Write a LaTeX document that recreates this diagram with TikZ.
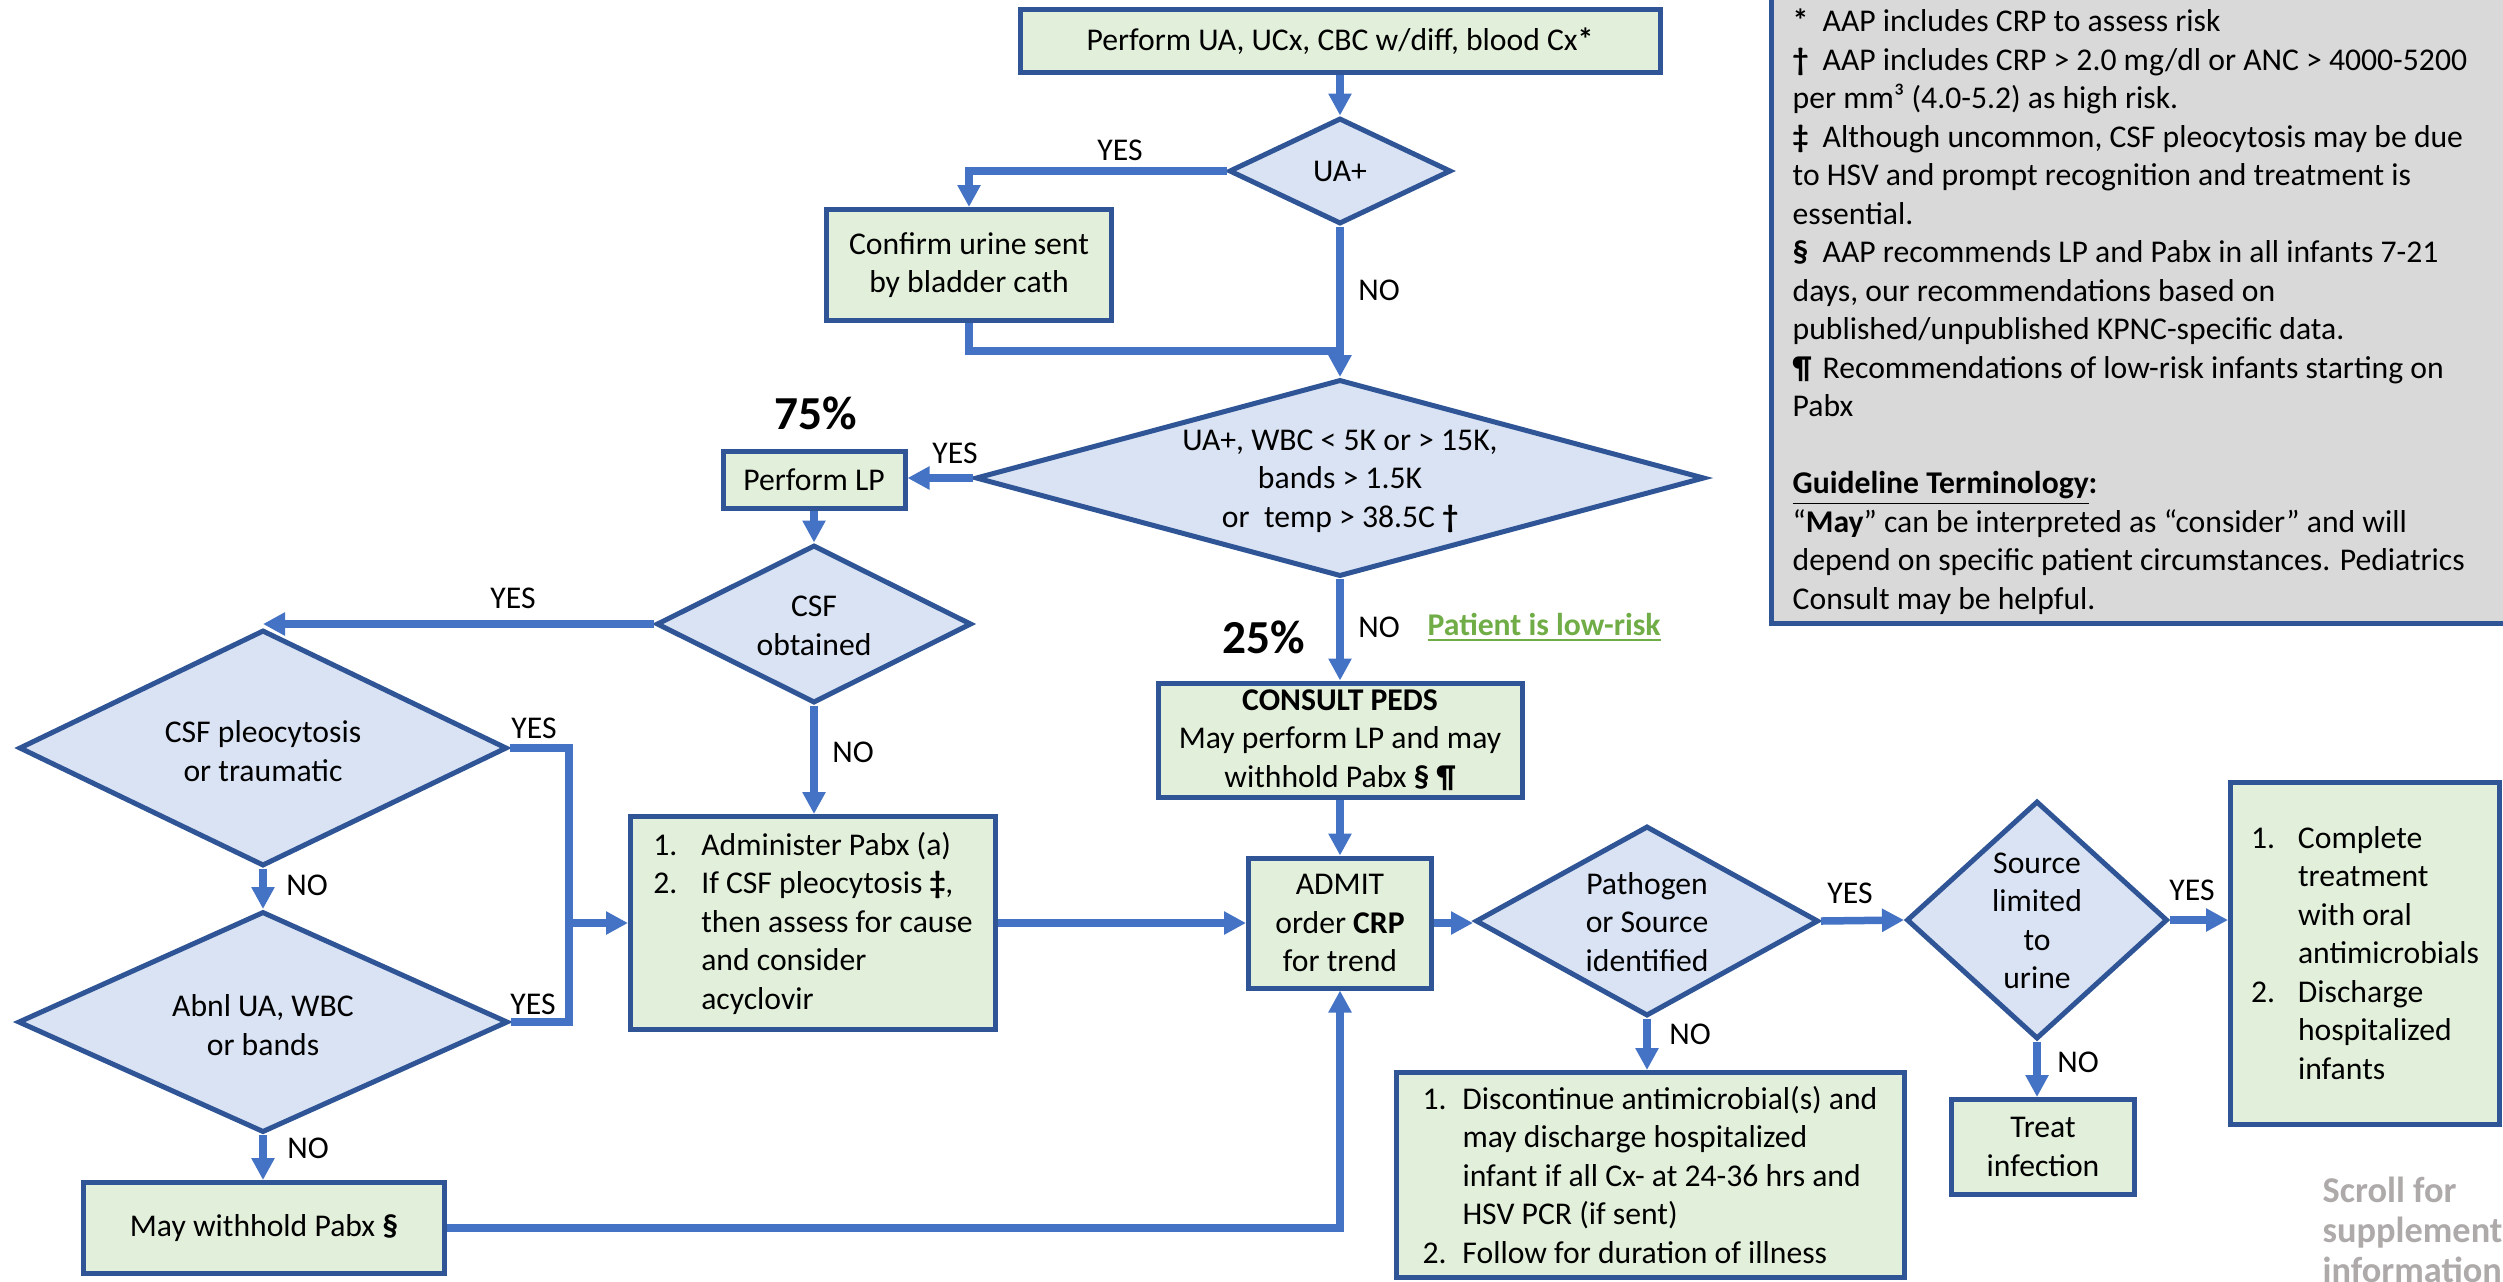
\documentclass[tikz,border=0pt]{standalone}
\usepackage{fontspec}
\setmainfont{Carlito}
\usetikzlibrary{shapes.geometric,arrows.meta}
\definecolor{boxfill}{HTML}{E2EFDA}
\definecolor{dfill}{HTML}{DAE3F3}
\definecolor{bord}{HTML}{2F5597}
\definecolor{arrc}{HTML}{4472C4}
\definecolor{legfill}{HTML}{D9D9D9}
\definecolor{lowgreen}{HTML}{70AD47}
\definecolor{scrollgray}{HTML}{AEAAAA}
\newcommand{\bodyfont}{\fontsize{9.5}{11.55}\selectfont}
\newcommand{\itmA}[1]{\makebox[14.4pt][l]{#1}}
\newcommand{\itmB}[1]{\makebox[12pt][l]{#1}}
\newcommand{\itmC}[1]{\makebox[14.1pt][l]{#1}}
\newcommand{\symb}[1]{\makebox[9pt][l]{\textbf{#1}}}
\begin{document}
\begin{tikzpicture}[x=0.3pt,y=-0.3pt,
  every node/.style={font=\bodyfont, inner sep=0pt},
  box/.style={rectangle, draw=bord, fill=boxfill, line width=1.5pt, align=center},
  dia/.style={diamond, draw=bord, fill=dfill, line width=1.5pt},
  arr/.style={draw=arrc, line width=2.25pt, -{Triangle[length=6.6pt,width=6.6pt]}},
  ln/.style={draw=arrc, line width=2.25pt},
  big/.style={font=\fontsize{14.2}{16}\selectfont\bfseries},
  dtext/.style={align=center},
]
\path[use as bounding box, fill=white] (0,0) rectangle (2503,1281);

% legend
\draw[fill=legfill, draw=bord, line width=1.5pt] (1771.5,-20) rectangle (2540,623.5);
\node[anchor=base west, align=left] (notes) at (1792,609) {%
\symb{*}AAP includes CRP to assess risk\\
\symb{†}AAP includes CRP > 2.0 mg/dl or ANC > 4000-5200\\
per mm³ (4.0-5.2) as high risk.\\
\symb{‡}Although uncommon, CSF pleocytosis may be due\\
to HSV and prompt recognition and treatment is\\
essential.\\
\symb{§}AAP recommends LP and Pabx in all infants 7-21\\
days, our recommendations based on\\
published/unpublished KPNC-specific data.\\
\symb{¶}Recommendations of low-risk infants starting on\\
Pabx\\
\mbox{}\\
\underline{\textbf{Guideline Terminology}}\textbf{:}\\
“\textbf{May}” can be interpreted as “consider” and will\\
depend on specific patient circumstances. Pediatrics\\
Consult may be helpful.};

% boxes
\node[box, minimum width=192pt, minimum height=18.9pt] (top) at (1340,41) {Perform UA, UCx, CBC w/diff, blood Cx\textbf{*}};
\node[dia, minimum width=66.6pt, minimum height=31.8pt] (ua) at (1340,171) {};
\node[dtext] (ua-t) at (ua) {UA+};
\node[box, minimum width=85.5pt, minimum height=33.3pt] (confirm) at (969,265) {Confirm urine sent\\by bladder cath};
\node[dia, minimum width=218.7pt, minimum height=59.1pt] (bigd) at (1340,478) {};
\node[dtext] (bigd-t) at (1340,481) {UA+, WBC < 5K or > 15K,\\bands > 1.5K\\or\ \ temp > 38.5C \textbf{†}};
\node[box, minimum width=54.6pt, minimum height=17.1pt] (lp) at (814,480) {Perform LP};
\node[dia, minimum width=94.5pt, minimum height=47.4pt] (csf) at (814,624) {};
\node[dtext] (csf-t) at (814,626) {CSF\\obtained};
\node[dia, minimum width=146.4pt, minimum height=70.8pt] (pleo) at (263,748) {};
\node[dtext] (pleo-t) at (263,751) {CSF pleocytosis\\or traumatic};
\node[dia, minimum width=147pt, minimum height=66.3pt] (abnl) at (263,1022) {};
\node[dtext] (abnl-t) at (263,1025) {Abnl UA, WBC\\or bands};
\node[box, minimum width=108.3pt, minimum height=27.3pt] (withhold) at (264,1228) {May withhold Pabx \textbf{§}};
\node[box, minimum width=109.5pt, minimum height=63.9pt, align=left] (admin) at (813,923) {\itmA{1.}Administer Pabx (a)\\\itmA{2.}If CSF pleocytosis \textbf{‡},\\\hspace*{14.4pt}then assess for cause\\\hspace*{14.4pt}and consider\\\hspace*{14.4pt}acyclovir};
\node[box, minimum width=109.2pt, minimum height=34.2pt] (consult) at (1340,740) {\textbf{CONSULT PEDS}\\May perform LP and may\\withhold Pabx \textbf{§ ¶}};
\node[box, minimum width=54.9pt, minimum height=39pt] (admit) at (1340,923) {ADMIT\\order \textbf{CRP}\\for trend};
\node[dia, minimum width=102.9pt, minimum height=57pt] (path) at (1647,921) {};
\node[dtext] (path-t) at (1647,922) {Pathogen\\or Source\\identified};
\node[dia, minimum width=78.3pt, minimum height=71.4pt] (source) at (2037,920) {};
\node[dtext] (source-t) at (2037,921) {Source\\limited\\to\\urine};
\node[box, minimum width=80.7pt, minimum height=102.6pt, align=left] (complete) at (2365,953) {\itmC{1.}Complete\\\hspace*{14.1pt}treatment\\\hspace*{14.1pt}with oral\\\hspace*{14.1pt}antimicrobials\\\itmC{2.}Discharge\\\hspace*{14.1pt}hospitalized\\\hspace*{14.1pt}infants};
\node[box, minimum width=152.4pt, minimum height=61.5pt, align=left] (disc) at (1650,1175) {\itmB{1.}Discontinue antimicrobial(s) and\\\hspace*{12pt}may discharge hospitalized\\\hspace*{12pt}infant if all Cx- at 24-36 hrs and\\\hspace*{12pt}HSV PCR (if sent)\\\itmB{2.}Follow for duration of illness};
\node[box, minimum width=54.9pt, minimum height=28.5pt] (treat) at (2043,1147) {Treat\\infection};

% junctions
\coordinate (j1) at (1340,351);
\coordinate (jx) at (569,923);

% connectors
\draw[arr] (top) -- (ua);
\draw[arr] (ua.west) -| (confirm.north);
\draw[ln] (confirm.south) |- (j1);
\draw[arr] (ua.south) -- (bigd.north);
\draw[arr] (bigd.west) -- (bigd.west -| lp.east);
\draw[arr] (lp.south) -- (csf.north);
\draw[arr] (csf.west) -- (csf.west -| pleo.north);
\draw[arr] (csf.south) -- (csf.south |- admin.north);
\draw[ln] (pleo.east) -| (jx);
\draw[ln] (abnl.east) -| (jx);
\draw[arr] (jx) -- (admin.west);
\draw[arr] (pleo.south) -- (abnl.north);
\draw[arr] (abnl.south) -- (abnl.south |- withhold.north);
\draw[arr] (withhold.east) -| (admit.south);
\draw[arr] (admin.east) -- (admit.west);
\draw[arr] (bigd.south) -- (consult.north);
\draw[arr] (consult.south) -- (admit.north);
\draw[arr] (admit.east) -- (admit.east -| path.west);
\draw[arr] (path.east) -- (source.west);
\draw[arr] (source.east) -- (source.east -| complete.west);
\draw[arr] (path.south) -- (path.south |- disc.north);
\draw[arr] (source.south) -- (source.south |- treat.north);

% labels
\node (l1) at (1120,150) {YES};
\node (l2) at (1379,290) {NO};
\node (l3) at (955,453) {YES};
\node[big] (p75) at (816,413) {75\%};
\node[big] (p25) at (1264,637) {25\%};
\node (l4) at (1379,627) {NO};
\node[anchor=base west, text=lowgreen, font=\bodyfont\bfseries] (lowrisk) at (1427,635) {\underline{Patient is low-risk}};
\node (l5) at (513,598) {YES};
\node (l6) at (853,752) {NO};
\node (l7) at (534,728) {YES};
\node (l8) at (307,885) {NO};
\node (l9) at (533,1004) {YES};
\node (l10) at (308,1148) {NO};
\node (l11) at (1850,893) {YES};
\node (l12) at (1690,1034) {NO};
\node (l13) at (2192,890) {YES};
\node (l14) at (2078,1062) {NO};

\node[anchor=base west, align=left, text=scrollgray, font=\fontsize{10.9}{12}\selectfont\bfseries] (scroll) at (2322,1282) {Scroll for\\supplemental\\information};
\end{tikzpicture}
\end{document}
